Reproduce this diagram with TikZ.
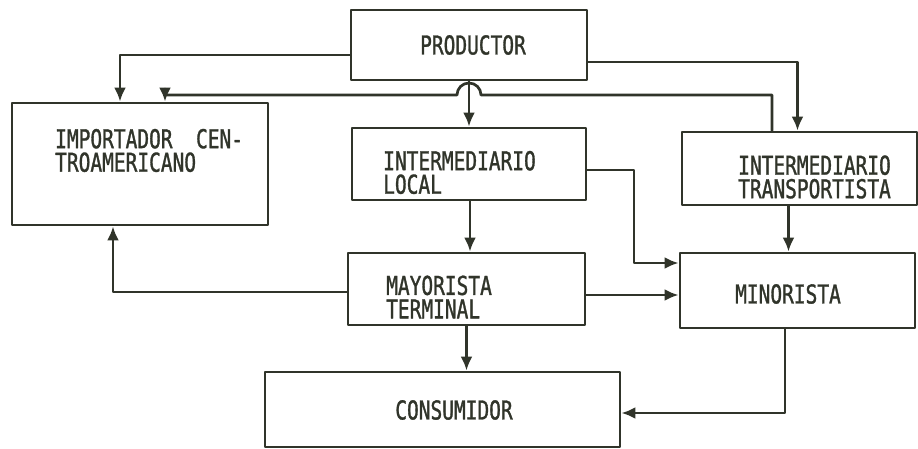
\documentclass[tikz,border=0pt]{standalone}
\usepackage{fontspec}
\newfontfamily\boxfont[FakeStretch=0.75,FakeBold=1.2]{DejaVu Sans Mono}
\usetikzlibrary{arrows.meta}
\definecolor{ink}{RGB}{48,52,42}
\begin{document}
\begin{tikzpicture}[x=1pt,y=-1pt,line cap=round,line join=round,
  box/.style={draw=ink,line width=2.8pt,rectangle,inner sep=0pt},
  txt/.style={font=\boxfont\fontsize{26}{23.5}\selectfont,text=ink,inner sep=0pt,align=left},
  arr/.style={draw=ink,line width=2.7pt,-{Latex[length=14pt,width=12pt]}}]
  \useasboundingbox[fill=white] (0,0) rectangle (918,449);

  % Boxes.
  \node[box,minimum width=236pt,minimum height=70pt] (prod) at (469,45) {};
  \node[box,minimum width=256pt,minimum height=122pt] (imp) at (140,164) {};
  \node[box,minimum width=234pt,minimum height=72pt] (loc) at (469,164) {};
  \node[box,minimum width=235pt,minimum height=73pt] (trans) at (799.5,168.5) {};
  \node[box,minimum width=237pt,minimum height=72pt] (may) at (466.5,289) {};
  \node[box,minimum width=235pt,minimum height=75pt] (min) at (797.5,290.5) {};
  \node[box,minimum width=355pt,minimum height=75pt] (cons) at (442.5,409.5) {};

  % Texts.
  \node[txt] (prod-t) at (473,45) {PRODUCTOR};
  \node[txt,anchor=west] (imp-t) at (55,150.5) {IMPORTADOR\ \ CEN-\\TROAMERICANO};
  \node[txt,anchor=west] (loc-t) at (383,172.5) {INTERMEDIARIO\\LOCAL};
  \node[txt,anchor=west] (trans-t) at (738,177) {INTERMEDIARIO\\TRANSPORTISTA};
  \node[txt,anchor=west] (may-t) at (386,297) {MAYORISTA\\TERMINAL};
  \node[txt] (min-t) at (788,294) {MINORISTA};
  \node[txt] (cons-t) at (454,410) {CONSUMIDOR};

  % Connectors.
  \coordinate (hop) at (469,95);
  \coordinate (lm) at (634,263);
  \draw[arr] ([yshift=-10pt]prod.west) -| ([xshift=-20pt]imp.north);
  \draw[arr] ([yshift=-17pt]prod.east) -| ([xshift=-2pt]trans.north);
  \draw[arr] ([xshift=-27.5pt]trans.north) |- ([xshift=12pt]hop)
    arc[start angle=0,end angle=180,radius=12pt] -| ([xshift=25pt]imp.north);
  \draw[arr] (prod.south) -- (loc.north);
  \draw[arr] ([yshift=-6pt]loc.east) -| (lm) -- (lm -| min.west);
  \draw[arr] ([xshift=1pt]loc.south) -- ([xshift=1pt]loc.south |- may.north);
  \draw[arr] ([xshift=-11pt]trans.south) -- ([xshift=-11pt]trans.south |- min.north);
  \draw[arr] ([yshift=-3pt]may.west) -| ([xshift=-27pt]imp.south);
  \draw[arr] ([yshift=-6pt]may.east) -- ([yshift=-6pt]may.east -| min.west);
  \draw[arr] (may.south) -- (may.south |- cons.north);
  \draw[arr] ([xshift=-12.5pt]min.south) |- ([yshift=-3.5pt]cons.east);
\end{tikzpicture}
\end{document}
